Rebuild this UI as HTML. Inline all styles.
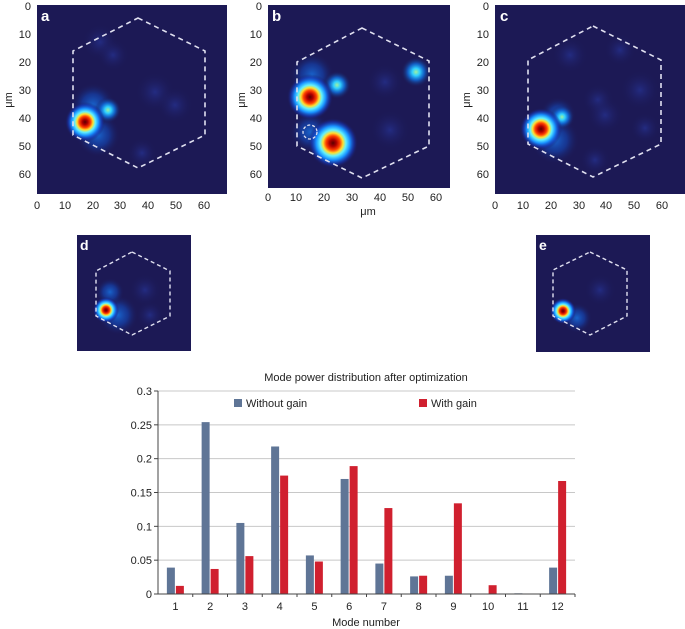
<!DOCTYPE html>
<html><head><meta charset="utf-8">
<style>
html,body{margin:0;padding:0;background:#fff;}
svg{display:block;font-family:"Liberation Sans",Arial,sans-serif;}
</style></head>
<body>
<svg id="fig" width="685" height="629" viewBox="0 0 685 629" xmlns="http://www.w3.org/2000/svg">
<defs>
 <radialGradient id="hot">
  <stop offset="0" stop-color="#5a0000"/>
  <stop offset="0.14" stop-color="#b00000"/>
  <stop offset="0.28" stop-color="#ff4000"/>
  <stop offset="0.4" stop-color="#ffe030"/>
  <stop offset="0.52" stop-color="#60f0ff"/>
  <stop offset="0.68" stop-color="#1890ff"/>
  <stop offset="0.85" stop-color="#1638b8" stop-opacity="0.6"/>
  <stop offset="1" stop-color="#1c1955" stop-opacity="0"/>
 </radialGradient>
 <radialGradient id="cyan">
  <stop offset="0" stop-color="#a0f0a0"/>
  <stop offset="0.25" stop-color="#30d0ff"/>
  <stop offset="0.55" stop-color="#1070e0" stop-opacity="0.8"/>
  <stop offset="1" stop-color="#1c1955" stop-opacity="0"/>
 </radialGradient>
 <radialGradient id="blue">
  <stop offset="0" stop-color="#1870e0" stop-opacity="0.85"/>
  <stop offset="0.5" stop-color="#1448b8" stop-opacity="0.6"/>
  <stop offset="1" stop-color="#1c1955" stop-opacity="0"/>
 </radialGradient>
 <radialGradient id="faint">
  <stop offset="0" stop-color="#2838a0" stop-opacity="0.6"/>
  <stop offset="1" stop-color="#1c1955" stop-opacity="0"/>
 </radialGradient>
</defs>

<!-- Panel a -->
<g>
 <rect x="37" y="5" width="190" height="189" fill="#1c1955"/>
 <circle cx="100" cy="42" r="18" fill="url(#faint)"/>
 <circle cx="113" cy="55" r="16" fill="url(#faint)"/>
 <circle cx="155" cy="92" r="20" fill="url(#faint)"/>
 <circle cx="175" cy="105" r="18" fill="url(#faint)"/>
 <circle cx="142" cy="153" r="15" fill="url(#faint)"/>
 <circle cx="98" cy="135" r="22" fill="url(#blue)"/>
 <circle cx="93" cy="105" r="22" fill="url(#blue)"/>
 <circle cx="108" cy="110" r="13" fill="url(#cyan)"/>
 <circle cx="85" cy="122" r="20" fill="url(#hot)"/>
 <polygon points="138,18 205,51 205,135 138,168 73,135 73,51" fill="none" stroke="#e0e0f0" stroke-width="1.6" stroke-dasharray="5,4"/>
 <text x="41" y="21" font-size="15" font-weight="bold" fill="#fff">a</text>
 <g font-size="11" fill="#222" text-anchor="end">
  <text x="31" y="10">0</text><text x="31" y="38">10</text><text x="31" y="66">20</text><text x="31" y="94">30</text><text x="31" y="122">40</text><text x="31" y="150">50</text><text x="31" y="178">60</text>
 </g>
 <g font-size="11" fill="#222" text-anchor="middle">
  <text x="37" y="209">0</text><text x="65" y="209">10</text><text x="93" y="209">20</text><text x="120" y="209">30</text><text x="148" y="209">40</text><text x="176" y="209">50</text><text x="204" y="209">60</text>
 </g>
 <text transform="translate(12,100) rotate(-90)" font-size="11" fill="#222" text-anchor="middle">μm</text>
</g>

<!-- Panel b -->
<g>
 <rect x="268" y="5" width="182" height="183" fill="#1c1955"/>
 <circle cx="385" cy="82" r="18" fill="url(#faint)"/>
 <circle cx="390" cy="130" r="20" fill="url(#faint)"/>
 <circle cx="312" cy="75" r="22" fill="url(#blue)"/>
 <circle cx="310" cy="132" r="20" fill="url(#blue)"/>
 <circle cx="337" cy="85" r="14" fill="url(#cyan)"/>
 <circle cx="416" cy="72" r="15" fill="url(#cyan)"/>
 <circle cx="310" cy="97" r="23" fill="url(#hot)"/>
 <circle cx="333" cy="143" r="25" fill="url(#hot)"/>
 <circle cx="310" cy="132" r="7" fill="none" stroke="#e0e0f0" stroke-width="1.3" stroke-dasharray="3,2"/>
 <polygon points="362,28 429,61 429,146 362,178 297,146 297,62" fill="none" stroke="#e0e0f0" stroke-width="1.6" stroke-dasharray="5,4"/>
 <text x="272" y="21" font-size="15" font-weight="bold" fill="#fff">b</text>
 <g font-size="11" fill="#222" text-anchor="end">
  <text x="262" y="10">0</text><text x="262" y="38">10</text><text x="262" y="66">20</text><text x="262" y="94">30</text><text x="262" y="122">40</text><text x="262" y="150">50</text><text x="262" y="178">60</text>
 </g>
 <g font-size="11" fill="#222" text-anchor="middle">
  <text x="268" y="201">0</text><text x="296" y="201">10</text><text x="324" y="201">20</text><text x="352" y="201">30</text><text x="380" y="201">40</text><text x="408" y="201">50</text><text x="436" y="201">60</text>
 </g>
 <text x="368" y="215" font-size="11" fill="#222" text-anchor="middle">μm</text>
 <text transform="translate(245,100) rotate(-90)" font-size="11" fill="#222" text-anchor="middle">μm</text>
</g>

<!-- Panel c -->
<g>
 <rect x="495" y="5" width="190" height="189" fill="#1c1955"/>
 <circle cx="570" cy="55" r="18" fill="url(#faint)"/>
 <circle cx="620" cy="50" r="16" fill="url(#faint)"/>
 <circle cx="640" cy="90" r="20" fill="url(#faint)"/>
 <circle cx="598" cy="100" r="16" fill="url(#faint)"/>
 <circle cx="605" cy="115" r="18" fill="url(#faint)"/>
 <circle cx="595" cy="160" r="15" fill="url(#faint)"/>
 <circle cx="645" cy="128" r="15" fill="url(#faint)"/>
 <circle cx="555" cy="140" r="24" fill="url(#blue)"/>
 <circle cx="558" cy="115" r="18" fill="url(#blue)"/>
 <circle cx="562" cy="117" r="12" fill="url(#cyan)"/>
 <circle cx="541" cy="129" r="21" fill="url(#hot)"/>
 <polygon points="593,26 661,60 661,144 593,177 528,144 528,60" fill="none" stroke="#e0e0f0" stroke-width="1.6" stroke-dasharray="5,4"/>
 <text x="500" y="21" font-size="15" font-weight="bold" fill="#fff">c</text>
 <g font-size="11" fill="#222" text-anchor="end">
  <text x="489" y="10">0</text><text x="489" y="38">10</text><text x="489" y="66">20</text><text x="489" y="94">30</text><text x="489" y="122">40</text><text x="489" y="150">50</text><text x="489" y="178">60</text>
 </g>
 <g font-size="11" fill="#222" text-anchor="middle">
  <text x="495" y="209">0</text><text x="523" y="209">10</text><text x="551" y="209">20</text><text x="579" y="209">30</text><text x="606" y="209">40</text><text x="634" y="209">50</text><text x="662" y="209">60</text>
 </g>
 <text transform="translate(470,100) rotate(-90)" font-size="11" fill="#222" text-anchor="middle">μm</text>
</g>

<!-- Panel d -->
<g>
 <rect x="77" y="235" width="114" height="116" fill="#1c1955"/>
 <circle cx="145" cy="290" r="16" fill="url(#faint)"/>
 <circle cx="150" cy="315" r="14" fill="url(#faint)"/>
 <circle cx="118" cy="315" r="20" fill="url(#blue)"/>
 <circle cx="110" cy="292" r="14" fill="url(#blue)"/>
 <circle cx="106" cy="310" r="13" fill="url(#hot)"/>
 <polygon points="132,252 170,271 170,316 132,335 96,316 96,271" fill="none" stroke="#e0e0f0" stroke-width="1.4" stroke-dasharray="4,3"/>
 <text x="80" y="250" font-size="14" font-weight="bold" fill="#fff">d</text>
</g>

<!-- Panel e -->
<g>
 <rect x="536" y="235" width="114" height="117" fill="#1c1955"/>
 <circle cx="600" cy="290" r="16" fill="url(#faint)"/>
 <circle cx="577" cy="318" r="15" fill="url(#blue)"/>
 <circle cx="563" cy="311" r="13" fill="url(#hot)"/>
 <polygon points="590,252 627,270 627,316 590,335 553,316 553,270" fill="none" stroke="#e0e0f0" stroke-width="1.4" stroke-dasharray="4,3"/>
 <text x="539" y="250" font-size="14" font-weight="bold" fill="#fff">e</text>
</g>

<!-- Bar chart -->
<g id="barchart">
 <text x="366" y="381" font-size="11" fill="#222" text-anchor="middle">Mode power distribution after optimization</text>
 <rect x="234" y="399" width="8" height="8" fill="#5f7596"/>
 <text x="246" y="407" font-size="11" fill="#222">Without gain</text>
 <rect x="419" y="399" width="8" height="8" fill="#d0202f"/>
 <text x="431" y="407" font-size="11" fill="#222">With gain</text>
 <text x="366" y="626" font-size="11" fill="#222" text-anchor="middle">Mode number</text>
</g>
</svg>
<script>
const categories = ["1","2","3","4","5","6","7","8","9","10","11","12"];
const withoutGain = [0.039,0.254,0.105,0.218,0.057,0.170,0.045,0.026,0.027,0.0,0.001,0.039];
const withGain = [0.012,0.037,0.056,0.175,0.048,0.189,0.127,0.027,0.134,0.013,0.0,0.167];
const yTicks = [0,0.05,0.1,0.15,0.2,0.25,0.3];
const yTickLabels = ["0","0.05","0.1","0.15","0.2","0.25","0.3"];

const NS = "http://www.w3.org/2000/svg";
const g = document.getElementById('barchart');
const X0 = 158, X1 = 575, Y0 = 594, Y1 = 391, YMAX = 0.3;
const band = (X1 - X0) / categories.length;
function xc(i){ return X0 + band * (i + 0.5); }
function ys(v){ return Y0 - (v / YMAX) * (Y0 - Y1); }
function mk(tag, attrs){ const e = document.createElementNS(NS, tag); for (const k in attrs) e.setAttribute(k, attrs[k]); g.appendChild(e); return e; }

yTicks.forEach((t, i) => {
  if (t > 0) {
    const gl = mk('line', {x1: X0, x2: X1, y1: ys(t), y2: ys(t), stroke: '#c8c8c8', 'stroke-width': 1});
    
    
  }
  const tk = mk('line', {x1: X0 - 4, x2: X0, y1: ys(t), y2: ys(t), stroke: '#444', 'stroke-width': 1});
  
  
  const lb = mk('text', {x: X0 - 6, y: ys(t) + 4, 'font-size': 11, fill: '#222', 'text-anchor': 'end'});
  lb.textContent = yTickLabels[i];
  
  
});

categories.forEach((c, i) => {
  const cx = xc(i);
  const b1 = mk('rect', {x: cx - 8.5, y: ys(withoutGain[i]), width: 8, height: Y0 - ys(withoutGain[i]), fill: '#5f7596'});
  
  
  const b2 = mk('rect', {x: cx + 0.5, y: ys(withGain[i]), width: 8, height: Y0 - ys(withGain[i]), fill: '#d0202f'});
  
  
  const lb = mk('text', {x: cx, y: 610, 'font-size': 11, fill: '#222', 'text-anchor': 'middle'});
  lb.textContent = c;
  
  
  const tk = mk('line', {x1: X0 + band * (i + 1), x2: X0 + band * (i + 1), y1: Y0, y2: Y0 + 3, stroke: '#444'});
  
  
});

const ya = mk('line', {x1: X0, x2: X0, y1: Y1, y2: Y0, stroke: '#444', 'stroke-width': 1});


const xa = mk('line', {x1: X0, x2: X1, y1: Y0, y2: Y0, stroke: '#444', 'stroke-width': 1});


</script>
</body></html>
